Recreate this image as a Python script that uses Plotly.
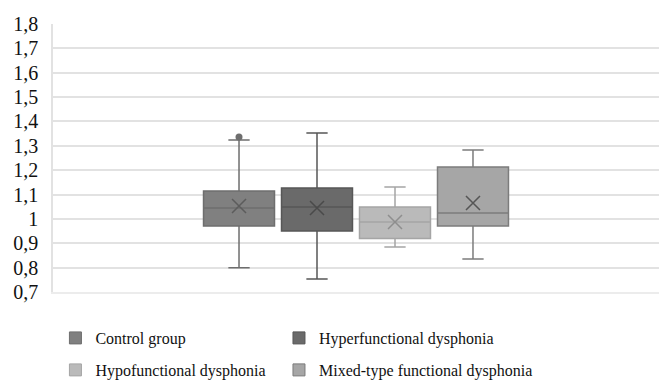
import plotly.graph_objects as go

groups = ["Control group", "Hyperfunctional dysphonia", "Hypofunctional dysphonia", "Mixed-type functional dysphonia"]
q1 = [0.971, 0.950, 0.920, 0.971]
median = [1.045, 1.049, 0.987, 1.024]
q3 = [1.115, 1.127, 1.049, 1.213]
lowerfence = [0.800, 0.753, 0.885, 0.835]
upperfence = [1.324, 1.353, 1.131, 1.283]
means = [1.053, 1.045, 0.987, 1.065]
outlier_group = ["Control group"]
outlier_vals = [1.336]

fills = ["#808080", "#6a6a6a", "#bababa", "#a6a6a6"]
lines = ["#6e6e6e", "#575757", "#a5a5a5", "#7c7c7c"]
xcolors = ["#5c5c5c", "#4a4a4a", "#8e8e8e", "#555555"]
legend_ids = ["legend", "legend2", "legend3", "legend4"]

ytickvals = [0.7, 0.8, 0.9, 1.0, 1.1, 1.2, 1.3, 1.4, 1.5, 1.6, 1.7, 1.8]
yticktext = ["0,7", "0,8", "0,9", "1", "1,1", "1,2", "1,3", "1,4", "1,5", "1,6", "1,7", "1,8"]

fig = go.Figure()
for i, g in enumerate(groups):
    fig.add_trace(go.Box(
        x=[g], q1=[q1[i]], median=[median[i]], q3=[q3[i]],
        lowerfence=[lowerfence[i]], upperfence=[upperfence[i]],
        fillcolor=fills[i], line=dict(color=lines[i], width=1.5),
        whiskerwidth=0.3, width=0.91, boxpoints=False, showlegend=False,
        hoverinfo="skip", name=g,
    ))
    fig.add_trace(go.Scatter(
        x=[g], y=[means[i]], mode="markers",
        marker=dict(symbol="x-thin-open", size=14, color=xcolors[i],
                    line=dict(color=xcolors[i], width=1.5)),
        showlegend=False, hoverinfo="skip",
    ))

fig.add_trace(go.Scatter(
    x=outlier_group, y=outlier_vals, mode="markers",
    marker=dict(symbol="circle", size=7, color="#6e6e6e"),
    showlegend=False, hoverinfo="skip",
))

for i, g in enumerate(groups):
    fig.add_trace(go.Scatter(
        x=[None], y=[None], mode="markers", name=g, legend=legend_ids[i],
        marker=dict(symbol="square", size=12, color=fills[i], line=dict(color=lines[i], width=1)),
    ))

legend_common = dict(
    orientation="h", xref="paper", yref="container", yanchor="middle",
    font=dict(size=16, color="#111111"), itemsizing="trace",
    bgcolor="rgba(0,0,0,0)",
)
col_x = [0.0040, 0.3729]
row_y = [0.1105, 0.0263]

fig.update_layout(
    width=659, height=380,
    margin=dict(l=53, r=0, t=24, b=88),
    paper_bgcolor="white", plot_bgcolor="white",
    font=dict(family="Liberation Serif, Times New Roman, serif", size=17, color="#111111"),
    boxmode="overlay",
    showlegend=True,
    legend=dict(x=col_x[0], y=row_y[0], **legend_common),
    legend2=dict(x=col_x[1], y=row_y[0], **legend_common),
    legend3=dict(x=col_x[0], y=row_y[1], **legend_common),
    legend4=dict(x=col_x[1], y=row_y[1], **legend_common),
    xaxis=dict(
        type="category", categoryorder="array", categoryarray=groups,
        range=[-2.385, 5.385], showticklabels=False, showgrid=False,
        zeroline=False, showline=True, linecolor="#ececec", linewidth=1.5, ticks="",
    ),
    yaxis=dict(
        range=[0.7, 1.8], tickvals=ytickvals, ticktext=yticktext,
        showgrid=True, gridcolor="#e2e2e2", gridwidth=1.5,
        showline=True, linecolor="#e2e2e2", linewidth=1.5,
        zeroline=False, ticks="", ticklabelstandoff=9,
        tickfont=dict(size=20, color="#111111"),
    ),
)

fig.write_html("out.html", config={"displayModeBar": False},
               post_script="document.body.style.margin='0';")
